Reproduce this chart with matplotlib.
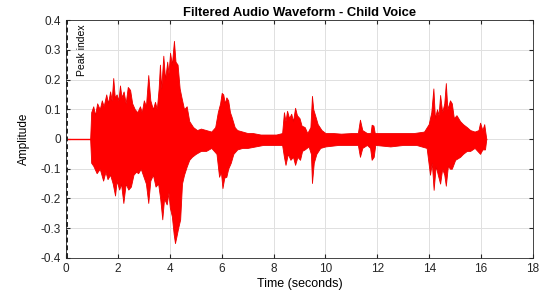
import numpy as np
import matplotlib
matplotlib.use("Agg")
from matplotlib import pyplot as plt

# upper envelope of the waveform (time in s, amplitude)
t_up = [0.0, 0.93, 0.97, 1.05, 1.12, 1.2, 1.3, 1.38, 1.45, 1.55, 1.62, 1.7, 1.76, 1.82, 1.88, 1.95,
        2.02, 2.08, 2.14, 2.22, 2.3, 2.38, 2.47, 2.55, 2.65, 2.75, 2.85, 2.92, 3.0, 3.08, 3.17, 3.25,
        3.35, 3.43, 3.5, 3.57, 3.62, 3.67, 3.75, 3.82, 3.9, 3.95, 4.01, 4.08, 4.16, 4.22, 4.3, 4.38,
        4.45, 4.55, 4.65, 4.75, 4.9, 5.05, 5.2, 5.4, 5.6, 5.75, 5.85, 5.94, 6.0, 6.06, 6.12, 6.18,
        6.25, 6.32, 6.38, 6.5, 6.6, 6.8, 7.0, 7.2, 7.5, 7.8, 8.1, 8.33, 8.4, 8.46, 8.52, 8.6, 8.68,
        8.75, 8.83, 8.9, 9.0, 9.08, 9.2, 9.3, 9.42, 9.48, 9.53, 9.6, 9.7, 9.85, 10.0, 10.3, 10.6,
        11.0, 11.25, 11.33, 11.42, 11.6, 11.74, 11.78, 11.85, 11.9, 12.3, 12.6, 13.0, 13.4, 13.8,
        13.98, 14.08, 14.16, 14.22, 14.3, 14.36, 14.42, 14.5, 14.58, 14.64, 14.7, 14.8, 14.87,
        14.95, 15.05, 15.19, 15.3, 15.45, 15.58, 15.75, 15.9, 15.96, 16.05, 16.12, 16.2]
a_up = [0.0, 0.0, 0.09, 0.11, 0.08, 0.12, 0.10, 0.13, 0.11, 0.15, 0.12, 0.16, 0.13, 0.205, 0.14, 0.15,
        0.13, 0.18, 0.14, 0.16, 0.12, 0.175, 0.165, 0.12, 0.10, 0.09, 0.11, 0.09, 0.13, 0.11, 0.215, 0.13,
        0.10, 0.125, 0.10, 0.17, 0.25, 0.17, 0.28, 0.20, 0.26, 0.22, 0.29, 0.25, 0.33, 0.26, 0.25, 0.17,
        0.14, 0.10, 0.11, 0.06, 0.04, 0.03, 0.035, 0.03, 0.025, 0.04, 0.09, 0.12, 0.155, 0.15, 0.12, 0.14,
        0.13, 0.09, 0.075, 0.04, 0.03, 0.025, 0.02, 0.02, 0.015, 0.015, 0.015, 0.02, 0.09, 0.06, 0.095, 0.07, 0.085,
        0.06, 0.105, 0.08, 0.07, 0.045, 0.04, 0.02, 0.04, 0.145, 0.10, 0.08, 0.05, 0.03, 0.02, 0.02, 0.018,
        0.02, 0.02, 0.065, 0.03, 0.02, 0.02, 0.048, 0.045, 0.02, 0.02, 0.02, 0.02, 0.02, 0.025,
        0.05, 0.09, 0.17, 0.07, 0.10, 0.08, 0.148, 0.09, 0.12, 0.188, 0.10, 0.13, 0.12,
        0.07, 0.08, 0.06, 0.05, 0.04, 0.03, 0.025, 0.03, 0.055, 0.03, 0.05, 0.0]

# lower envelope
t_lo = [0.93, 0.97, 1.05, 1.18, 1.3, 1.43, 1.52, 1.6, 1.7, 1.8, 1.89, 1.95, 2.05, 2.12, 2.21, 2.3,
        2.4, 2.5, 2.6, 2.7, 2.78, 2.88, 3.0, 3.08, 3.17, 3.25, 3.35, 3.45, 3.55, 3.63, 3.71, 3.78,
        3.88, 3.95, 4.0, 4.08, 4.15, 4.2, 4.25, 4.32, 4.4, 4.47, 4.55, 4.65, 4.75, 4.85, 5.0, 5.2,
        5.4, 5.6, 5.8, 5.9, 5.97, 6.03, 6.1, 6.18, 6.25, 6.35, 6.45, 6.6, 6.8, 7.0, 7.3, 7.6, 8.0,
        8.33, 8.4, 8.46, 8.55, 8.65, 8.75, 8.83, 8.92, 9.02, 9.1, 9.2, 9.35, 9.44, 9.48, 9.55, 9.65,
        9.8, 10.0, 10.5, 11.0, 11.25, 11.33, 11.42, 11.6, 11.72, 11.78, 11.86, 11.92, 12.5, 13.0,
        13.5, 13.9, 14.03, 14.1, 14.17, 14.25, 14.33, 14.42, 14.5, 14.58, 14.64, 14.72, 14.8,
        14.87, 15.0, 15.19, 15.3, 15.45, 15.58, 15.75, 15.96, 16.05, 16.15, 16.2]
a_lo = [0.0, -0.08, -0.09, -0.115, -0.10, -0.14, -0.11, -0.135, -0.12, -0.15, -0.19, -0.14, -0.17, -0.15, -0.215, -0.15,
        -0.17, -0.16, -0.12, -0.11, -0.115, -0.10, -0.13, -0.15, -0.215, -0.14, -0.12, -0.16, -0.15, -0.20, -0.27, -0.20,
        -0.22, -0.18, -0.23, -0.26, -0.32, -0.35, -0.33, -0.30, -0.27, -0.15, -0.12, -0.093, -0.07, -0.06, -0.05, -0.04,
        -0.04, -0.03, -0.05, -0.127, -0.11, -0.165, -0.13, -0.127, -0.10, -0.08, -0.05, -0.035, -0.03, -0.03, -0.025, -0.02, -0.02,
        -0.02, -0.06, -0.087, -0.05, -0.07, -0.06, -0.087, -0.06, -0.07, -0.04, -0.035, -0.025, -0.05, -0.148, -0.08, -0.05,
        -0.03, -0.025, -0.02, -0.02, -0.02, -0.06, -0.03, -0.02, -0.03, -0.07, -0.06, -0.02, -0.025, -0.02,
        -0.02, -0.03, -0.12, -0.08, -0.171, -0.09, -0.12, -0.15, -0.10, -0.12, -0.157, -0.09, -0.10,
        -0.10, -0.07, -0.06, -0.05, -0.04, -0.04, -0.03, -0.05, -0.035, -0.035, 0.0]

x_ticks = [0, 2, 4, 6, 8, 10, 12, 14, 16, 18]
y_ticks = [-0.4, -0.3, -0.2, -0.1, 0, 0.1, 0.2, 0.3, 0.4]
y_ticklabels = ["-0.4", "-0.3", "-0.2", "-0.1", "0", "0.1", "0.2", "0.3", "0.4"]

plt.rcParams['font.family'] = ['Liberation Sans', 'DejaVu Sans']
fig = plt.figure(figsize=(5.47, 2.93), dpi=100)
ax = fig.add_axes([0.1207, 0.1195, 0.8537, 0.8122])

ax.fill_between(t_up, 0, a_up, color='#ff0000', linewidth=0.6, edgecolor='#ee0000')
ax.fill_between(t_lo, a_lo, 0, color='#ff0000', linewidth=0.6, edgecolor='#ee0000')
ax.plot([0, 16.2], [0, 0], color='#ff0000', linewidth=1.0)

# peak index marker
ax.axvline(0.04, color='#222222', linestyle='--', linewidth=1.4, dashes=(2.5, 1.5), zorder=5)
ax.text(0.62, 0.385, 'Peak index', rotation=90, ha='center', va='top', fontsize=7.5)

ax.set_xlim(0, 18)
ax.set_ylim(-0.4, 0.4)
ax.set_xticks(x_ticks)
ax.set_yticks(y_ticks)
ax.set_yticklabels(y_ticklabels)
ax.grid(True, color='#e0e0e0', linewidth=0.7)
ax.set_axisbelow(True)
ax.tick_params(direction='in', top=True, right=True, labelsize=8.5, colors='#262626', length=3)
for s in ax.spines.values():
    s.set_color('#262626')
    s.set_linewidth(0.6)

ax.set_title('Filtered Audio Waveform - Child Voice', fontsize=9.4, fontweight='bold', pad=3)
ax.set_xlabel('Time (seconds)', fontsize=9, labelpad=2)
ax.set_ylabel('Amplitude', fontsize=8.5, labelpad=8)

fig.savefig('out.png', dpi=100)
